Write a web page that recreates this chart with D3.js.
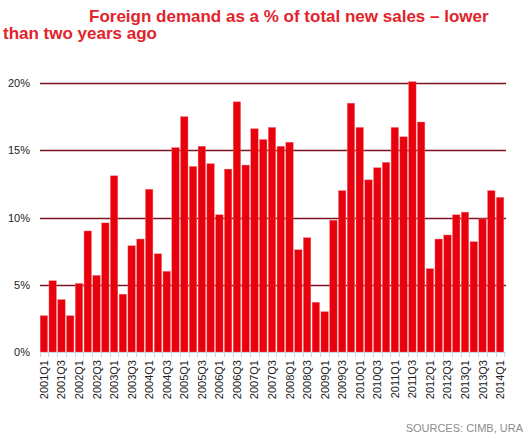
<!DOCTYPE html>
<html>
<head>
<meta charset="utf-8">
<script src="https://d3js.org/d3.v7.min.js"></script>
<style>
  body { margin: 0; background: #fff; }
  svg { display: block; font-family: "Liberation Sans", Arial, sans-serif; }
  .title { fill: #e3232b; font-weight: bold; font-size: 17px; }
  .ylab { fill: #222; font-size: 11px; }
  .xlab { fill: #222; font-size: 11px; }
  .src { fill: #8c8c8c; font-size: 11px; }
</style>
</head>
<body>
<script>
// quarters 2001Q1 .. 2014Q1
var years = d3.range(2001, 2015);
var quarters = [];
years.forEach(function(yr) {
  ["Q1", "Q2", "Q3", "Q4"].forEach(function(q) {
    if (yr < 2014 || q === "Q1") quarters.push(yr + q);
  });
});

// foreign demand as % of total new sales
var share = [
  2.7, 5.3, 3.9, 2.7,
  5.1, 9.0, 5.7, 9.6,
  13.1, 4.3, 7.9, 8.4,
  12.1, 7.3, 6.0, 15.2,
  17.5, 13.8, 15.3, 14.0,
  10.2, 13.6, 18.6, 13.9,
  16.6, 15.8, 16.7, 15.3,
  15.6, 7.6, 8.5, 3.7,
  3.0, 9.8, 12.0, 18.5,
  16.7, 12.8, 13.7, 14.1,
  16.7, 16.0, 20.1, 17.1,
  6.2, 8.4, 8.7, 10.2,
  10.4, 8.2, 9.9, 12.0,
  11.5
];

var yTicks = [0, 5, 10, 15, 20];

var W = 530, H = 439;
var plotL = 40, plotR = 506, plotT = 83, plotB = 352;

var svg = d3.select("body").append("svg")
  .attr("width", W)
  .attr("height", H);

var x = d3.scaleBand().domain(quarters).range([plotL, plotR - 2]).paddingInner(0.15).paddingOuter(0.02);
var y = d3.scaleLinear().domain([0, 20]).range([plotB, plotT]);

// title
svg.append("text").attr("class", "title").attr("x", 89).attr("y", 22)
  .text("Foreign demand as a % of total new sales \u2013 lower");
svg.append("text").attr("class", "title").attr("x", 3).attr("y", 39)
  .text("than two years ago");

// gridlines
svg.append("g").selectAll("line")
  .data(yTicks.filter(function(d) { return d > 0; }))
  .enter().append("line")
  .attr("x1", plotL).attr("x2", plotR)
  .attr("y1", function(d) { return Math.round(y(d)) + 0.5; })
  .attr("y2", function(d) { return Math.round(y(d)) + 0.5; })
  .attr("stroke", "#7a1420")
  .attr("stroke-width", 1.3);

// y labels
svg.append("g").selectAll("text")
  .data(yTicks)
  .enter().append("text")
  .attr("class", "ylab")
  .attr("x", 30)
  .attr("y", function(d) { return y(d) + 4; })
  .attr("text-anchor", "end")
  .text(function(d) { return d + "%"; });

// bars
svg.append("g").selectAll("rect")
  .data(share)
  .enter().append("rect")
  .attr("x", function(d, i) { return x(quarters[i]); })
  .attr("width", x.bandwidth())
  .attr("y", function(d) { return y(d); })
  .attr("height", function(d) { return plotB - y(d); })
  .attr("fill", "#e8000c")
  .attr("stroke", "#f07a80")
  .attr("stroke-width", 0.4);

// baseline + ticks between bands
var step = x.step();
svg.append("line")
  .attr("x1", plotL).attr("x2", plotR)
  .attr("y1", plotB + 0.5).attr("y2", plotB + 0.5)
  .attr("stroke", "#c9d6e6").attr("stroke-width", 1);
svg.append("g").selectAll("line")
  .data(d3.range(quarters.length + 1))
  .enter().append("line")
  .attr("x1", function(i) { return Math.round(x(quarters[0]) - step * 0.075 + i * step) + 0.5; })
  .attr("x2", function(i) { return Math.round(x(quarters[0]) - step * 0.075 + i * step) + 0.5; })
  .attr("y1", plotB).attr("y2", plotB + 5)
  .attr("stroke", "#c9d6e6").attr("stroke-width", 1);

// x labels every other quarter
svg.append("g").selectAll("text")
  .data(quarters.filter(function(d, i) { return i % 2 === 0; }))
  .enter().append("text")
  .attr("class", "xlab")
  .attr("text-anchor", "end")
  .attr("transform", function(d) {
    return "translate(" + (x(d) + x.bandwidth() / 2 + 4) + "," + 360 + ") rotate(-90)";
  })
  .text(function(d) { return d; });

// source
svg.append("text").attr("class", "src")
  .attr("x", 523).attr("y", 432)
  .attr("text-anchor", "end")
  .text("SOURCES: CIMB, URA");
</script>
</body>
</html>
